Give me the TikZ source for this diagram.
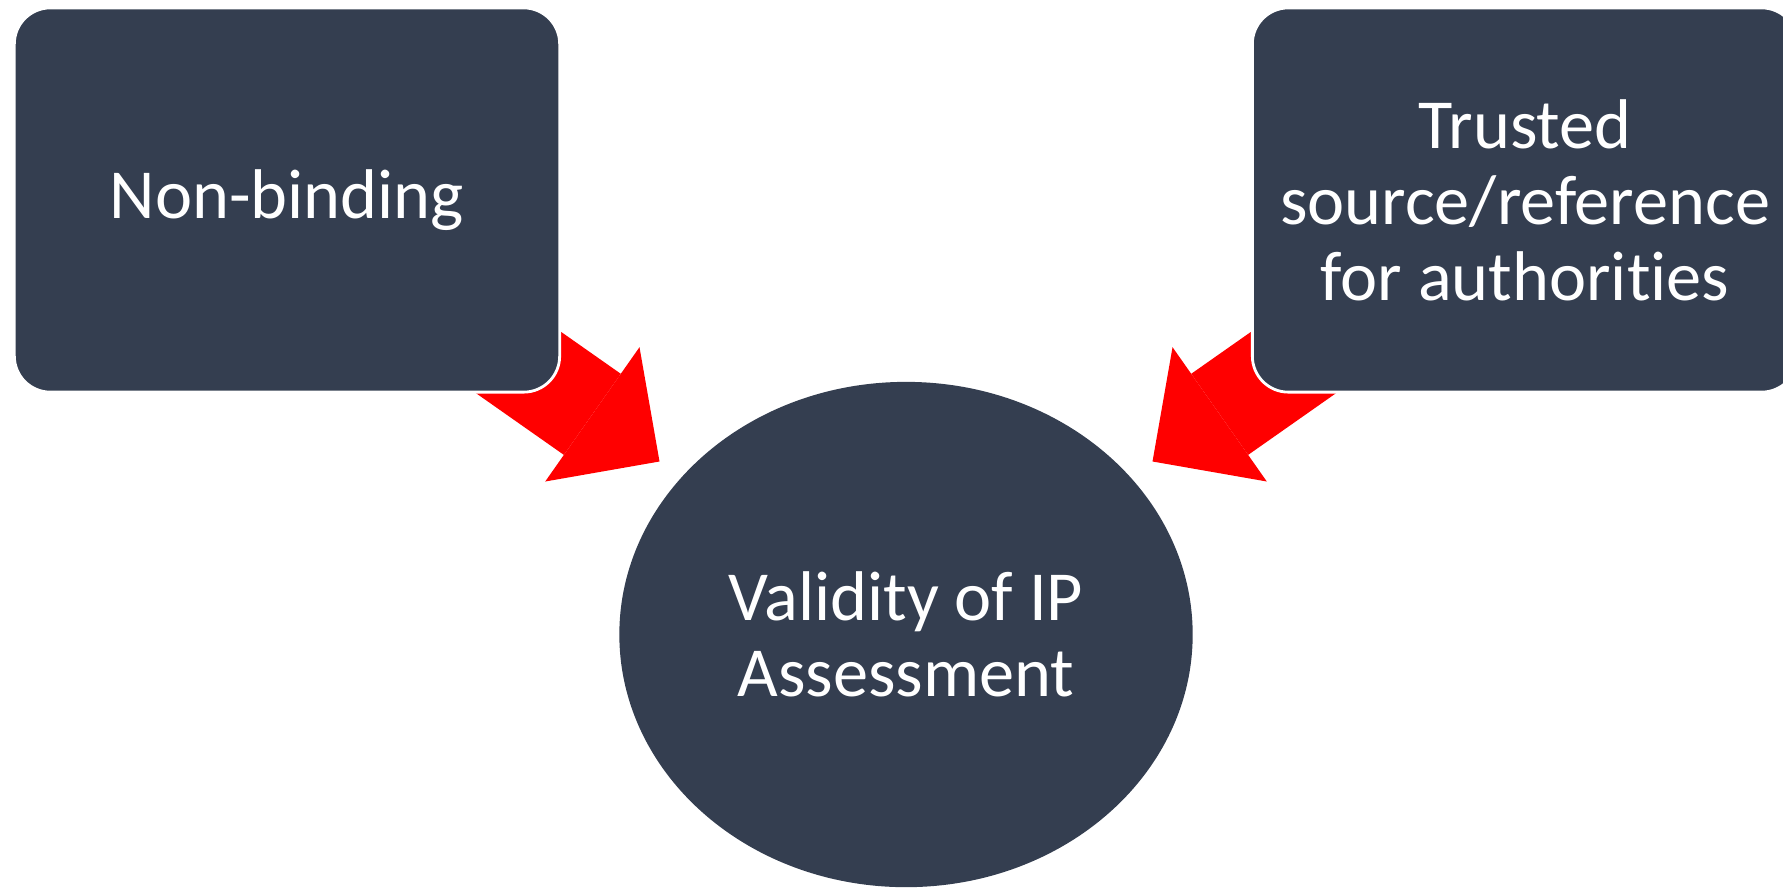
\documentclass[tikz,border=0pt]{standalone}
\usepackage{fontspec}
\setmainfont{Carlito}[Ligatures={NoCommon,NoContextual}]
\usetikzlibrary{arrows.meta,shapes.geometric,backgrounds}
\definecolor{slate}{RGB}{52,62,80}
\tikzset{
	card/.style={draw=white, line width=0.8pt, fill=slate, rounded corners=0.36cm,
		minimum width=5.45cm, minimum height=3.84cm, text=white, align=center,
		font=\fontsize{20}{21.6}\selectfont},
	hub/.style={ellipse, fill=slate, inner sep=0pt, minimum width=5.73cm,
		minimum height=5.05cm, text=white, align=center,
		font=\fontsize{20}{21.6}\selectfont},
	flow/.style={red, line width=0.99cm,
		-{Triangle[length=0.82cm, width=1.64cm, line width=0pt]}, shorten >=3.01cm}
}
\begin{document}
\begin{tikzpicture}[x=0.01cm, y=-0.01cm]
	\useasboundingbox (0,0) rectangle (1783,887);
	% Boxes
	\node [card] (nonbind) at (287,200) {Non-binding};
	\node [card] (trusted) at (1525,200) {Trusted\\source/reference\\for authorities};
	% Centre
	\node [hub] (assess) at (906,634.5) {Validity of IP\\Assessment};
	% Arrows
	\begin{pgfonlayer}{background}
		\foreach \s in {nonbind, trusted} {
			\draw [flow] (\s.center) -- (assess.center);
		}
	\end{pgfonlayer}
\end{tikzpicture}
\end{document}
